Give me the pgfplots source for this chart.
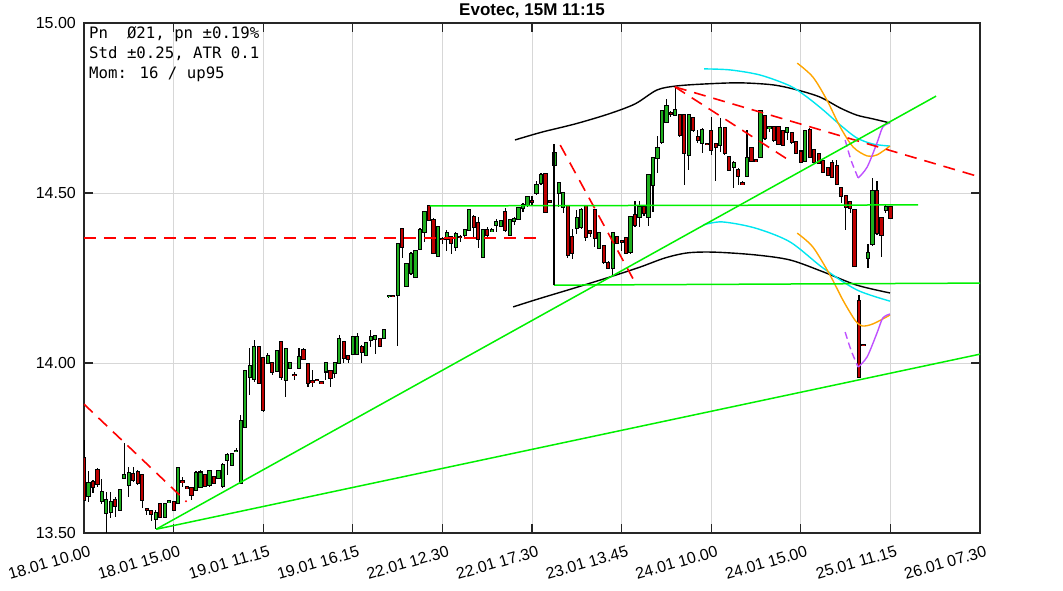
\documentclass[border=0pt]{standalone}
\usepackage{fontspec}
\setmainfont{Liberation Sans}
\newfontfamily\monofont{DejaVu Sans Mono}
\usepackage{pgfplots}
\usepackage{pgfplotstable}
\pgfplotsset{compat=1.18}
\definecolor{cgreen}{RGB}{30,175,30}
\definecolor{cred}{RGB}{190,0,0}
\definecolor{lgreen}{RGB}{0,240,0}
\definecolor{lred}{RGB}{255,0,0}
\definecolor{ccyan}{RGB}{0,230,240}
\definecolor{corange}{RGB}{255,165,0}
\definecolor{cpurple}{RGB}{190,80,255}
\definecolor{cgrid}{RGB}{215,215,215}

\pgfplotstableread{
i o h l c
0 13.720 13.774 13.597 13.597
1 13.610 13.681 13.592 13.648
2 13.651 13.655 13.617 13.634
3 13.685 13.690 13.636 13.644
4 13.595 13.660 13.585 13.622
5 13.560 13.622 13.500 13.597
6 13.563 13.622 13.543 13.592
7 13.597 13.607 13.548 13.578
8 13.568 13.630 13.565 13.627
9 13.661 13.764 13.660 13.671
10 13.641 13.695 13.607 13.676
11 13.673 13.695 13.651 13.656
12 13.680 13.685 13.641 13.646
13 13.671 13.671 13.573 13.597
14 13.571 13.573 13.553 13.569
15 13.565 13.568 13.534 13.555
16 13.540 13.568 13.511 13.560
17 13.584 13.586 13.546 13.548
18 13.548 13.586 13.546 13.584
19 13.590 13.596 13.588 13.594
20 13.590 13.592 13.566 13.568
21 13.587 13.695 13.587 13.692
22 13.652 13.666 13.636 13.651
23 13.634 13.636 13.631 13.633
24 13.632 13.636 13.597 13.612
25 13.627 13.681 13.627 13.676
26 13.636 13.685 13.636 13.678
27 13.671 13.675 13.636 13.638
28 13.641 13.685 13.636 13.681
29 13.666 13.668 13.644 13.646
30 13.661 13.686 13.660 13.683
31 13.638 13.705 13.631 13.700
32 13.715 13.734 13.671 13.730
33 13.700 13.735 13.698 13.732
34 13.740 13.749 13.739 13.742
35 13.648 13.847 13.648 13.830
36 13.813 13.979 13.813 13.977
37 13.960 14.043 13.906 13.991
38 13.952 14.068 13.945 14.048
39 14.048 14.050 13.940 13.940
40 14.014 14.019 13.857 13.862
41 14.000 14.028 14.000 14.021
42 14.000 14.004 13.965 13.975
43 13.977 14.038 13.975 14.036
44 14.063 14.063 13.950 13.960
45 13.950 14.043 13.901 14.040
46 13.984 14.002 13.982 13.999
47 13.966 13.975 13.950 13.964
48 13.984 14.043 13.981 14.019
49 14.038 14.043 14.009 14.011
50 13.997 13.999 13.928 13.940
51 13.946 13.979 13.930 13.944
52 13.951 13.953 13.948 13.949
53 13.943 13.945 13.940 13.941
54 13.975 14.001 13.950 13.999
55 13.975 13.979 13.930 13.955
56 13.970 13.999 13.955 13.999
57 13.999 14.082 13.999 14.070
58 14.063 14.063 14.000 14.014
59 14.021 14.024 13.999 14.011
60 14.028 14.080 14.026 14.077
61 14.028 14.089 14.026 14.077
62 14.048 14.053 13.999 14.033
63 14.024 14.062 14.022 14.060
64 14.068 14.097 14.048 14.077
65 14.070 14.082 14.028 14.079
66 14.070 14.072 14.048 14.050
67 14.073 14.100 14.070 14.097
68 14.196 14.200 14.192 14.198
69 14.198 14.200 14.195 14.196
70 14.200 14.352 14.050 14.349
71 14.394 14.397 14.310 14.340
72 14.226 14.293 14.223 14.291
73 14.265 14.328 14.259 14.320
74 14.254 14.329 14.251 14.329
75 14.334 14.396 14.332 14.391
76 14.386 14.445 14.357 14.445
77 14.462 14.465 14.418 14.421
78 14.421 14.425 14.322 14.325
79 14.315 14.402 14.312 14.400
80 14.366 14.370 14.350 14.364
81 14.365 14.392 14.330 14.383
82 14.371 14.374 14.320 14.353
83 14.341 14.385 14.330 14.379
84 14.372 14.376 14.355 14.370
85 14.376 14.395 14.370 14.391
86 14.391 14.452 14.388 14.450
87 14.429 14.435 14.371 14.400
88 14.412 14.429 14.338 14.365
89 14.312 14.394 14.310 14.391
90 14.391 14.400 14.370 14.376
91 14.388 14.397 14.385 14.391
92 14.406 14.425 14.385 14.415
93 14.403 14.418 14.400 14.418
94 14.444 14.455 14.385 14.391
95 14.376 14.424 14.376 14.420
96 14.418 14.430 14.405 14.424
97 14.424 14.458 14.422 14.456
98 14.456 14.470 14.445 14.465
99 14.465 14.492 14.458 14.488
100 14.477 14.490 14.465 14.475
101 14.500 14.535 14.495 14.524
102 14.529 14.560 14.525 14.553
103 14.556 14.558 14.440 14.443
104 14.477 14.479 14.473 14.475
105 14.582 14.644 14.575 14.618
106 14.500 14.529 14.459 14.529
107 14.459 14.503 14.440 14.500
108 14.462 14.465 14.309 14.318
109 14.371 14.394 14.306 14.324
110 14.397 14.450 14.380 14.426
111 14.400 14.455 14.395 14.450
112 14.462 14.465 14.360 14.371
113 14.388 14.392 14.370 14.382
114 14.450 14.453 14.341 14.368
115 14.338 14.385 14.335 14.382
116 14.344 14.347 14.290 14.297
117 14.294 14.300 14.278 14.279
118 14.279 14.385 14.255 14.382
119 14.371 14.374 14.350 14.353
120 14.360 14.362 14.330 14.357
121 14.368 14.371 14.320 14.324
122 14.326 14.432 14.322 14.429
123 14.435 14.476 14.400 14.406
124 14.429 14.476 14.400 14.459
125 14.459 14.465 14.432 14.441
126 14.429 14.556 14.403 14.553
127 14.524 14.605 14.444 14.603
128 14.603 14.668 14.560 14.632
129 14.651 14.742 14.645 14.740
130 14.708 14.777 14.705 14.757
131 14.735 14.740 14.725 14.733
132 14.730 14.813 14.725 14.745
133 14.730 14.732 14.665 14.671
134 14.730 14.732 14.524 14.617
135 14.612 14.733 14.568 14.730
136 14.720 14.722 14.680 14.685
137 14.666 14.686 14.646 14.656
138 14.647 14.690 14.617 14.686
139 14.645 14.647 14.642 14.643
140 14.681 14.725 14.612 14.627
141 14.644 14.646 14.534 14.634
142 14.642 14.720 14.622 14.691
143 14.691 14.693 14.612 14.617
144 14.607 14.609 14.566 14.568
145 14.577 14.593 14.514 14.588
146 14.568 14.573 14.524 14.551
147 14.529 14.536 14.524 14.526
148 14.551 14.686 14.548 14.602
149 14.632 14.635 14.590 14.593
150 14.596 14.598 14.592 14.594
151 14.607 14.745 14.604 14.742
152 14.725 14.728 14.656 14.661
153 14.690 14.696 14.680 14.693
154 14.693 14.695 14.650 14.656
155 14.693 14.696 14.640 14.644
156 14.683 14.686 14.640 14.642
157 14.680 14.693 14.657 14.690
158 14.676 14.679 14.645 14.649
159 14.651 14.654 14.615 14.617
160 14.622 14.625 14.588 14.591
161 14.593 14.685 14.590 14.681
162 14.686 14.690 14.604 14.607
163 14.627 14.630 14.588 14.591
164 14.614 14.617 14.585 14.588
165 14.593 14.596 14.558 14.561
166 14.573 14.576 14.550 14.553
167 14.588 14.598 14.543 14.548
168 14.578 14.598 14.525 14.527
169 14.514 14.519 14.470 14.490
170 14.490 14.495 14.392 14.460
171 14.473 14.476 14.440 14.455
172 14.450 14.452 14.284 14.284
173 14.181 14.200 13.955 13.960
174 14.054 14.056 14.050 14.052
175 14.310 14.350 14.279 14.323
176 14.350 14.543 14.343 14.506
177 14.506 14.534 14.377 14.382
178 14.426 14.428 14.313 14.377
179 14.451 14.465 14.440 14.460
180 14.460 14.462 14.426 14.426
}\candles

\begin{document}
\begin{tikzpicture}[x=1pt,y=1pt]
\useasboundingbox (0,0) rectangle (1063,591);
\begin{axis}[
  at={(84pt,58pt)}, anchor=south west,
  width=896pt, height=510pt, scale only axis,
  xmin=0, xmax=200, ymin=13.5, ymax=15,
  xtick={0,20,...,200},
  xticklabels={18.01 10.00,18.01 15.00,19.01 11.15,19.01 16.15,22.01 12.30,22.01 17.30,23.01 13.45,24.01 10.00,24.01 15.00,25.01 11.15,26.01 07.30},
  ytick={13.5,14,14.5,15},
  yticklabels={13.50,14.00,14.50,15.00},
  tick label style={font=\fontsize{16}{19}\selectfont},
  xticklabel style={rotate=16, anchor=north east, inner sep=0pt, yshift=-13pt, xshift=1pt},
  yticklabel style={anchor=east, inner sep=0pt, xshift=-8pt},
  tick align=inside,
  major tick length=9pt,
  tick style={black!85, line width=1.2pt},
  axis line style={black!85, line width=1.3pt},
  grid=major,
  major grid style={cgrid, line width=0.9pt},
  title={Evotec, 15M 11:15},
  title style={font=\bfseries\fontsize{17}{20}\selectfont, at={(0.5,1)}, anchor=south, yshift=-1pt, inner sep=0pt},
]
% wicks
\addplot[draw=none, mark=none, forget plot,
  error bars/.cd, y dir=both, y explicit, error mark=none,
  error bar style={draw=black, line width=1.1pt}]
  table[x=i, y expr={(\thisrow{h}+\thisrow{l})/2}, y error expr={(\thisrow{h}-\thisrow{l})/2}] {\candles};
% body outlines
\addplot[draw=none, mark=none, forget plot,
  error bars/.cd, y dir=both, y explicit, error mark=none,
  error bar style={draw=black, line width=4.2pt}]
  table[x=i, y expr={(\thisrow{o}+\thisrow{c})/2}, y error expr={abs(\thisrow{c}-\thisrow{o})/2+0.003}] {\candles};
% up bodies
\addplot[draw=none, mark=none, forget plot,
  error bars/.cd, y dir=both, y explicit, error mark=none,
  error bar style={draw=cgreen, line width=2.2pt}]
  table[x=i, y expr={(\thisrow{o}+\thisrow{c})/2}, y error expr={max(\thisrow{c}-\thisrow{o},0)/2}] {\candles};
% down bodies
\addplot[draw=none, mark=none, forget plot,
  error bars/.cd, y dir=both, y explicit, error mark=none,
  error bar style={draw=cred, line width=2.2pt}]
  table[x=i, y expr={(\thisrow{o}+\thisrow{c})/2}, y error expr={max(\thisrow{o}-\thisrow{c},0)/2}] {\candles};

% black band curves
\addplot[black, line width=1.4pt, smooth] coordinates {(96.2,14.656) (102.2,14.679) (109.6,14.703) (117.0,14.732) (123.0,14.762) (127.9,14.803) (132.4,14.815) (139.1,14.821) (146.4,14.824) (153.8,14.818) (159.2,14.803) (164.3,14.782) (168.8,14.750) (172.5,14.729) (176.1,14.718) (179.9,14.706)};
\addplot[black, line width=1.4pt, smooth] coordinates {(95.8,14.165) (101.3,14.188) (109.6,14.221) (117.4,14.253) (124.1,14.282) (129.7,14.309) (134.8,14.324) (140.8,14.326) (149.8,14.318) (157.6,14.303) (165.0,14.268) (172.5,14.229) (179.9,14.206)};
% cyan
\addplot[ccyan, line width=1.4pt, smooth] coordinates {(138.4,14.865) (144.2,14.862) (150.9,14.847) (157.6,14.815) (161.4,14.782) (165.0,14.744) (168.8,14.700) (172.5,14.662) (176.1,14.644) (179.9,14.638)};
\addplot[ccyan, line width=1.4pt, smooth] coordinates {(138.2,14.406) (142.4,14.415) (149.8,14.397) (157.6,14.356) (165.0,14.279) (172.5,14.215) (179.9,14.182)};
% orange
\addplot[corange, line width=1.4pt, smooth] coordinates {(159.2,14.882) (162.7,14.841) (165.8,14.774) (168.8,14.694) (171.7,14.635) (174.8,14.609) (177.0,14.612) (179.9,14.638)};
\addplot[corange, line width=1.4pt, smooth] coordinates {(159.2,14.382) (162.7,14.341) (166.5,14.259) (169.4,14.185) (172.1,14.126) (173.7,14.109) (176.1,14.115) (179.9,14.141)};
% purple
\addplot[cpurple, line width=1.4pt, smooth, dash pattern=on 7pt off 4pt] coordinates {(169.9,14.656) (171.2,14.597) (172.8,14.544)};
\addplot[cpurple, line width=1.4pt, smooth] coordinates {(172.8,14.544) (174.8,14.576) (177.0,14.647) (178.3,14.694) (179.9,14.706)};
\addplot[cpurple, line width=1.4pt, smooth, dash pattern=on 7pt off 4pt] coordinates {(169.9,14.091) (171.2,14.038) (172.8,13.988)};
\addplot[cpurple, line width=1.4pt, smooth] coordinates {(172.8,13.988) (174.8,14.018) (177.0,14.088) (178.3,14.132) (179.9,14.144)};

% red dashed trend lines
\addplot[lred, line width=1.6pt, dash pattern=on 12pt off 8pt] coordinates {(0,13.879) (22.9,13.592)};
\addplot[lred, line width=1.6pt, dash pattern=on 12pt off 8pt] coordinates {(0,14.367) (102.2,14.367)};
\addplot[lred, line width=1.6pt, dash pattern=on 12pt off 8pt] coordinates {(106.3,14.641) (123.2,14.232)};
\addplot[lred, line width=1.6pt, dash pattern=on 12pt off 8pt] coordinates {(131.9,14.812) (200,14.547)};
\addplot[lred, line width=1.6pt, dash pattern=on 12pt off 8pt] coordinates {(131.9,14.812) (158.0,14.591)};
% green lines
\addplot[lgreen, line width=1.5pt] coordinates {(16.1,13.511) (190.2,14.785)};
\addplot[lgreen, line width=1.5pt] coordinates {(16.1,13.511) (200,14.026)};
\addplot[lgreen, line width=1.5pt] coordinates {(77.2,14.462) (186.2,14.465)};
\addplot[lgreen, line width=1.5pt] coordinates {(104.9,14.229) (200,14.235)};
\addplot[black, line width=1.3pt] coordinates {(104.9,14.644) (104.9,14.229)};
\end{axis}
\node[anchor=base west, inner sep=0pt, font=\monofont\fontsize{15.7}{19}\selectfont] at (89,552.5) {Pn\ \ Ø21, pn ±0.19\%};
\node[anchor=base west, inner sep=0pt, font=\monofont\fontsize{15.7}{19}\selectfont] at (89,532.5) {Std ±0.25, ATR 0.1};
\node[anchor=base west, inner sep=0pt, font=\monofont\fontsize{15.7}{19}\selectfont] at (89,512.5) {Mom: 16 / up95};
\end{tikzpicture}
\end{document}
